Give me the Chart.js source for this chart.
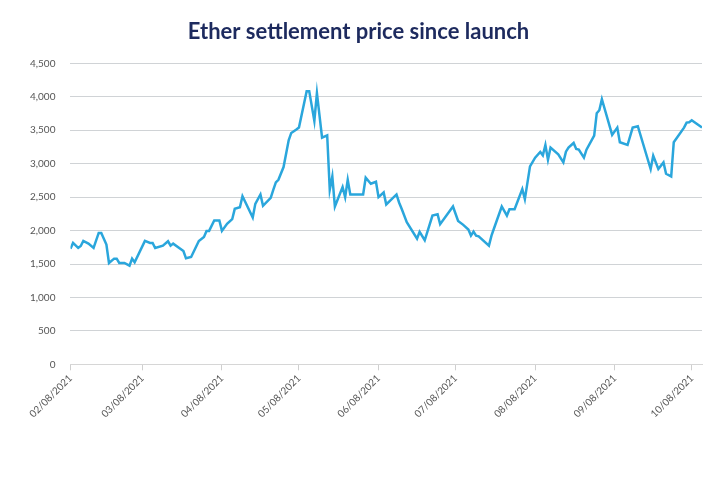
<!DOCTYPE html>
<html>
<head>
<meta charset="utf-8">
<script src="https://cdn.jsdelivr.net/npm/chart.js@4.4.1/dist/chart.umd.min.js"></script>
<style>
  html, body { margin: 0; padding: 0; background: #fff; }
  #wrap { width: 720px; height: 500px; }
</style>
</head>
<body>
<div id="wrap"><canvas id="priceChart"></canvas></div>
<script>
/* data */
var dates = [
  '2021-02-08','2021-02-09','2021-02-11','2021-02-12','2021-02-13','2021-02-15','2021-02-17','2021-02-19','2021-02-20',
  '2021-02-22','2021-02-23','2021-02-25','2021-02-26','2021-02-27','2021-03-01','2021-03-03','2021-03-04','2021-03-05',
  '2021-03-09','2021-03-11','2021-03-12','2021-03-13','2021-03-16','2021-03-18','2021-03-19','2021-03-20','2021-03-24',
  '2021-03-25','2021-03-27','2021-03-30','2021-04-01','2021-04-02','2021-04-03','2021-04-05','2021-04-07','2021-04-08',
  '2021-04-10','2021-04-12','2021-04-13','2021-04-15','2021-04-16','2021-04-17','2021-04-20','2021-04-21','2021-04-23',
  '2021-04-24','2021-04-27','2021-04-28','2021-04-29','2021-04-30','2021-05-02','2021-05-04','2021-05-05','2021-05-07',
  '2021-05-08','2021-05-11','2021-05-12','2021-05-14','2021-05-15','2021-05-17','2021-05-19','2021-05-20','2021-05-21',
  '2021-05-22','2021-05-25','2021-05-26','2021-05-27','2021-05-28','2021-06-02','2021-06-03','2021-06-05','2021-06-07',
  '2021-06-08','2021-06-10','2021-06-11','2021-06-15','2021-06-16','2021-06-17','2021-06-19','2021-06-23','2021-06-24',
  '2021-06-26','2021-06-29','2021-07-01','2021-07-02','2021-07-07','2021-07-09','2021-07-11','2021-07-13','2021-07-14',
  '2021-07-15','2021-07-16','2021-07-17','2021-07-21','2021-07-22','2021-07-23','2021-07-26','2021-07-28','2021-07-29',
  '2021-07-31','2021-08-03','2021-08-04','2021-08-06','2021-08-08','2021-08-10','2021-08-11','2021-08-12','2021-08-13',
  '2021-08-14','2021-08-17','2021-08-19','2021-08-20','2021-08-21','2021-08-23','2021-08-24','2021-08-25','2021-08-27',
  '2021-08-28','2021-08-31','2021-09-01','2021-09-02','2021-09-03','2021-09-07','2021-09-09','2021-09-10','2021-09-13',
  '2021-09-15','2021-09-17','2021-09-22','2021-09-23','2021-09-25','2021-09-27','2021-09-28','2021-09-30','2021-10-01',
  '2021-10-05','2021-10-06','2021-10-07','2021-10-08','2021-10-12'
];
var prices = [
  1730,1815,1740,1770,1845,1805,1740,1965,1965,
  1790,1515,1580,1580,1515,1515,1475,1580,1525,
  1845,1815,1815,1740,1775,1840,1775,1805,1695,
  1585,1605,1845,1905,1995,1995,2150,2150,1995,
  2100,2170,2325,2350,2515,2435,2195,2400,2540,
  2370,2490,2610,2720,2760,2950,3350,3460,3510,
  3540,4085,4085,3640,4055,3390,3425,2610,2810,
  2360,2650,2500,2760,2540,2540,2790,2700,2730,
  2500,2570,2390,2540,2420,2325,2125,1880,1980,
  1855,2225,2245,2095,2360,2145,2085,2015,1925,
  1985,1925,1915,1775,1925,2035,2360,2225,2320,
  2320,2620,2470,2960,3090,3175,3125,3280,3060,
  3240,3140,3020,3180,3240,3310,3220,3210,3090,
  3210,3420,3755,3800,3965,3430,3540,3320,3280,
  3540,3560,2920,3120,2920,3020,2850,2810,3320,
  3540,3615,3620,3650,3540
];
var tickDates = ['2021-02-08','2021-03-08','2021-04-08','2021-05-08','2021-06-08','2021-07-08','2021-08-08','2021-09-08','2021-10-08'];
var yTicks = [0, 500, 1000, 1500, 2000, 2500, 3000, 3500, 4000, 4500];

var DAY = 86400000;
function dayNo(s) {
	return Date.parse(s + 'T00:00:00Z') / DAY;
}
var start = dayNo(dates[0]);

var points = [];
for (var i = 0; i < dates.length; i++) {
	points.push({ x: dayNo(dates[i]) - start, y: prices[i] });
}

function fmtDate(n) {
	var d = new Date((start + n) * DAY);
	var mm = ('0' + (d.getUTCMonth() + 1)).slice(-2);
	var dd = ('0' + d.getUTCDate()).slice(-2);
	return mm + '/' + dd + '/' + d.getUTCFullYear();
}

var ctx = document.getElementById('priceChart').getContext('2d');
var chart = new Chart(ctx, {
	type: 'line',
	data: {
		datasets: [{
			data: points,
			borderColor: '#2aa6dc',
			borderWidth: 2.5,
			pointRadius: 0,
			tension: 0,
			fill: false
		}]
	},
	options: {
		responsive: true,
		maintainAspectRatio: false,
		animation: false,
		layout: { padding: { left: 15, right: 18, top: 6, bottom: 78 } },
		plugins: {
			legend: { display: false },
			tooltip: { enabled: false },
			title: {
				display: true,
				text: 'Ether settlement price since launch',
				color: '#1d2a5e',
				font: { family: 'Lato', size: 22, weight: 'bold' },
				padding: { top: 13, bottom: 18 }
			}
		},
		scales: {
			x: {
				type: 'linear',
				min: 0,
				max: dayNo(dates[dates.length - 1]) - start,
				afterBuildTicks: function(axis) {
					axis.ticks = tickDates.map(function(t) { return { value: dayNo(t) - start }; });
				},
				grid: { drawOnChartArea: false, drawTicks: true, tickLength: 6, color: '#cfcfcf' },
				border: { display: true, color: '#d6d6d6' },
				ticks: {
					autoSkip: false,
					maxRotation: 45,
					minRotation: 45,
					padding: 2,
					color: '#555',
					font: { family: 'Lato', size: 10 },
					callback: function(v) { return fmtDate(v); }
				}
			},
			y: {
				min: 0,
				max: 4500,
				afterBuildTicks: function(axis) {
					axis.ticks = yTicks.map(function(v) { return { value: v }; });
				},
				grid: { color: '#d0d3d6', drawTicks: false, lineWidth: 1 },
				border: { display: false },
				ticks: {
					padding: 15,
					color: '#555',
					font: { family: 'Lato', size: 10 },
					callback: function(v) { return v.toLocaleString('en-US'); }
				}
			}
		}
	}
});
</script>
</body>
</html>
